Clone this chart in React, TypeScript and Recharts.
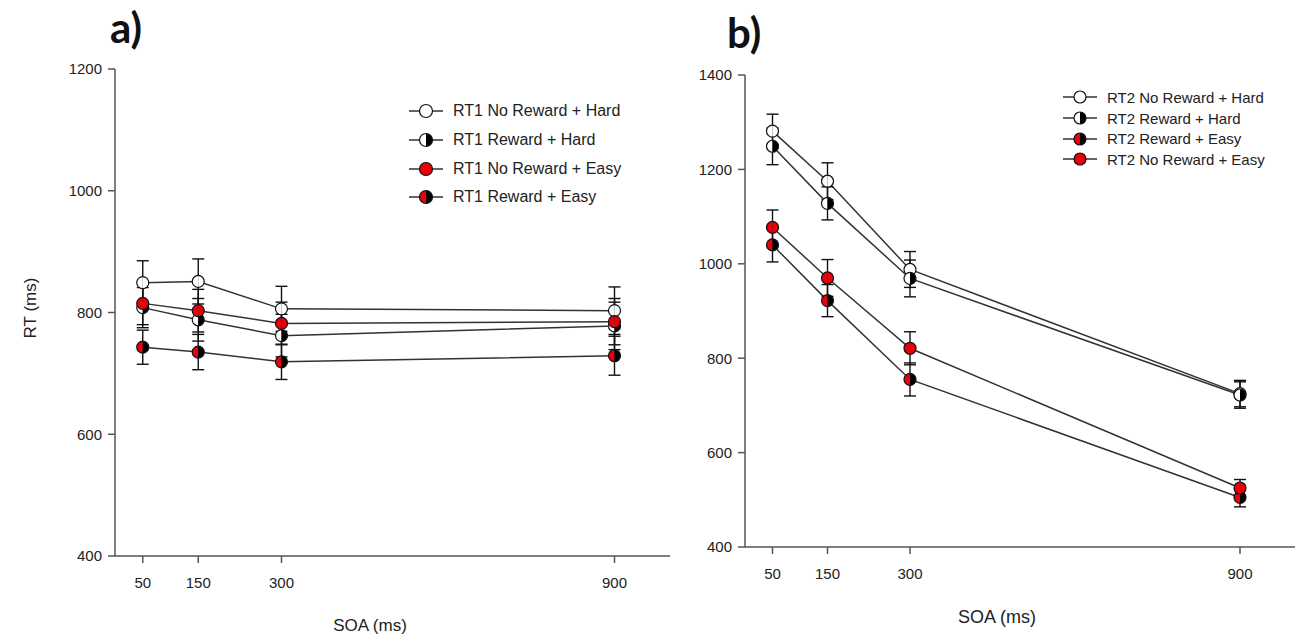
import { LineChart, Line, XAxis, YAxis, ErrorBar } from 'recharts'

// x values (SOA in ms)
const SOA = [50, 150, 300, 900]
const X_TICKS = [50, 150, 300, 900]
const A_TOP_TICKS = [50, 150]
const B_TOP_TICKS = [50, 150, 900]
const A_Y_TICKS = [400, 600, 800, 1000, 1200]
const A_RIGHT_TICKS = [600, 800, 1000]
const B_Y_TICKS = [400, 600, 800, 1000, 1200, 1400]
const B_RIGHT_TICKS = [600, 800, 1000, 1200]

// panel a) RT1
const rt1NoRewardHard = [849, 851, 806, 803]
const rt1NoRewardHardErr = [36, 37, 37, 39]
const rt1RewardHard = [808, 788, 762, 778]
const rt1RewardHardErr = [33, 35, 35, 39]
const rt1NoRewardEasy = [815, 803, 782, 785]
const rt1NoRewardEasyErr = [35, 35, 35, 38]
const rt1RewardEasy = [743, 735, 719, 729]
const rt1RewardEasyErr = [28, 29, 29, 32]

// panel b) RT2
const rt2NoRewardHard = [1281, 1175, 988, 725]
const rt2NoRewardHardErr = [36, 39, 38, 28]
const rt2RewardHard = [1249, 1128, 969, 722]
const rt2RewardHardErr = [39, 35, 39, 28]
const rt2RewardEasy = [1040, 922, 755, 505]
const rt2RewardEasyErr = [36, 34, 35, 20]
const rt2NoRewardEasy = [1077, 970, 821, 525]
const rt2NoRewardEasyErr = [37, 39, 35, 18]

const RED = '#E8000B'
const FONT = '"Liberation Sans", Arial, sans-serif'

type Kind = 'open' | 'half' | 'red' | 'halfRed'

const dataA = SOA.map((soa, i) => ({
  soa,
  nrh: rt1NoRewardHard[i], nrhErr: rt1NoRewardHardErr[i],
  rh: rt1RewardHard[i], rhErr: rt1RewardHardErr[i],
  nre: rt1NoRewardEasy[i], nreErr: rt1NoRewardEasyErr[i],
  re: rt1RewardEasy[i], reErr: rt1RewardEasyErr[i],
}))

const dataB = SOA.map((soa, i) => ({
  soa,
  nrh: rt2NoRewardHard[i], nrhErr: rt2NoRewardHardErr[i],
  rh: rt2RewardHard[i], rhErr: rt2RewardHardErr[i],
  re: rt2RewardEasy[i], reErr: rt2RewardEasyErr[i],
  nre: rt2NoRewardEasy[i], nreErr: rt2NoRewardEasyErr[i],
}))

const SERIES_A: { key: string; name: string; kind: Kind }[] = [
  { key: 'nrh', name: 'RT1 No Reward + Hard', kind: 'open' },
  { key: 'rh', name: 'RT1 Reward + Hard', kind: 'half' },
  { key: 'nre', name: 'RT1 No Reward + Easy', kind: 'red' },
  { key: 're', name: 'RT1 Reward + Easy', kind: 'halfRed' },
]

const SERIES_B: { key: string; name: string; kind: Kind }[] = [
  { key: 'nrh', name: 'RT2 No Reward + Hard', kind: 'open' },
  { key: 'rh', name: 'RT2 Reward + Hard', kind: 'half' },
  { key: 're', name: 'RT2 Reward + Easy', kind: 'halfRed' },
  { key: 'nre', name: 'RT2 No Reward + Easy', kind: 'red' },
]

function Marker({ kind, cx, cy, r }: { kind: Kind; cx: number; cy: number; r: number }) {
  const left = kind === 'red' || kind === 'halfRed' ? RED : '#fff'
  const right = kind === 'open' ? '#fff' : kind === 'red' ? RED : '#000'
  return (
    <g>
      <path d={`M${cx},${cy - r}A${r},${r} 0 0 0 ${cx},${cy + r}Z`} fill={left} />
      <path d={`M${cx},${cy - r}A${r},${r} 0 0 1 ${cx},${cy + r}Z`} fill={right} />
      <circle cx={cx} cy={cy} r={r} fill="none" stroke="#111" strokeWidth={1.2} />
    </g>
  )
}

function makeDot(kind: Kind) {
  return (props: any) => {
    const { cx, cy, index } = props
    if (cx == null || cy == null) return <g key={`dot-${index}`} />
    return (
      <g key={`dot-${index}`}>
        <Marker kind={kind} cx={cx} cy={cy} r={6} />
      </g>
    )
  }
}

function LegendBox({ series, left, top, rowH, fontSize, r }: {
  series: { key: string; name: string; kind: Kind }[]
  left: number; top: number; rowH: number; fontSize: number; r: number
}) {
  return (
    <div style={{ position: 'absolute', left, top, fontFamily: FONT, fontSize, color: '#222' }}>
      {series.map(s => (
        <div key={s.key} style={{ height: rowH, display: 'flex', alignItems: 'center', whiteSpace: 'nowrap' }}>
          <svg width={34} height={16} style={{ marginRight: 10 }}>
            <line x1={0} y1={8} x2={34} y2={8} stroke="#333" strokeWidth={1.5} />
            <Marker kind={s.kind} cx={17} cy={8} r={r} />
          </svg>
          <span>{s.name}</span>
        </div>
      ))}
    </div>
  )
}

const axisStroke = { stroke: '#555', strokeWidth: 1.5 }
const tickStyle = { fontSize: 15, fill: '#222', fontFamily: FONT }

function Panel({ data, series, yTicks, yDomain, topTicks, rightTicks, width, height, margin, yWidth, xHeight, mirrorRight }: any) {
  return (
    <LineChart width={width} height={height} data={data} margin={margin}>
      <XAxis xAxisId="bottom" dataKey="soa" type="number" domain={[0, 1000]} ticks={X_TICKS}
        allowDataOverflow height={xHeight} tickSize={7} tickMargin={14}
        axisLine={axisStroke} tickLine={axisStroke} tick={tickStyle} />
      <XAxis xAxisId="top" orientation="top" dataKey="soa" type="number" domain={[0, 1000]} ticks={topTicks}
        allowDataOverflow height={0} tickSize={7} tick={false}
        axisLine={axisStroke} tickLine={axisStroke} />
      <YAxis yAxisId="left" type="number" domain={yDomain} ticks={yTicks} allowDataOverflow
        width={yWidth} tickSize={7} tickMargin={6}
        axisLine={axisStroke} tickLine={axisStroke} tick={tickStyle} />
      <YAxis yAxisId="right" orientation="right" type="number" domain={yDomain} ticks={rightTicks} allowDataOverflow
        width={0} tickSize={7} tick={false} mirror={mirrorRight}
        axisLine={axisStroke} tickLine={axisStroke} />
      {series.map((s: any) => (
        <Line key={s.key} xAxisId="bottom" yAxisId="left" type="linear" dataKey={s.key} name={s.name}
          stroke="#333" strokeWidth={1.5} dot={makeDot(s.kind)} activeDot={false}
          isAnimationActive={false}>
          <ErrorBar dataKey={`${s.key}Err`} width={6} stroke="#111" strokeWidth={1.4} direction="y" />
        </Line>
      ))}
    </LineChart>
  )
}

export default function App() {
  return (
    <div style={{ position: 'absolute', left: 0, top: 0, width: 1298, height: 636, background: '#fff', overflow: 'hidden' }}>
      <div style={{ position: 'absolute', left: 0, top: 0 }}>
        <Panel data={dataA} series={SERIES_A} yTicks={A_Y_TICKS} yDomain={[400, 1200]}
          topTicks={A_TOP_TICKS} rightTicks={A_RIGHT_TICKS}
          width={690} height={636} margin={{ top: 69, right: 20, bottom: 0, left: 0 }}
          yWidth={115} xHeight={80} mirrorRight={false} />
      </div>
      <div style={{ position: 'absolute', left: 690, top: 0 }}>
        <Panel data={dataB} series={SERIES_B} yTicks={B_Y_TICKS} yDomain={[400, 1400]}
          topTicks={B_TOP_TICKS} rightTicks={B_RIGHT_TICKS}
          width={608} height={636} margin={{ top: 75, right: 3, bottom: 0, left: 0 }}
          yWidth={55} xHeight={89} mirrorRight={true} />
      </div>

      <LegendBox series={SERIES_A} left={409} top={97} rowH={28.7} fontSize={16} r={6.5} />
      <LegendBox series={SERIES_B} left={1063} top={87} rowH={20.7} fontSize={15} r={6} />

      <svg width={1298} height={636} style={{ position: 'absolute', left: 0, top: 0, pointerEvents: 'none' }}>
        <text x={110} y={43} fontSize={42} fontWeight={700} fontFamily="Lato, sans-serif" fill="#111">a)</text>
        <text x={727} y={48} fontSize={42} fontWeight={700} fontFamily="Lato, sans-serif" fill="#111">b)</text>
        <text x={370} y={631} textAnchor="middle" fontSize={17} fontFamily={FONT} fill="#222">SOA (ms)</text>
        <text x={997} y={623} textAnchor="middle" fontSize={18} fontFamily={FONT} fill="#222">SOA (ms)</text>
        <text x={30} y={308} textAnchor="middle" dominantBaseline="central" fontSize={17} fontFamily={FONT}
          fill="#222" transform="rotate(-90 30 308)">RT (ms)</text>
      </svg>
    </div>
  )
}
